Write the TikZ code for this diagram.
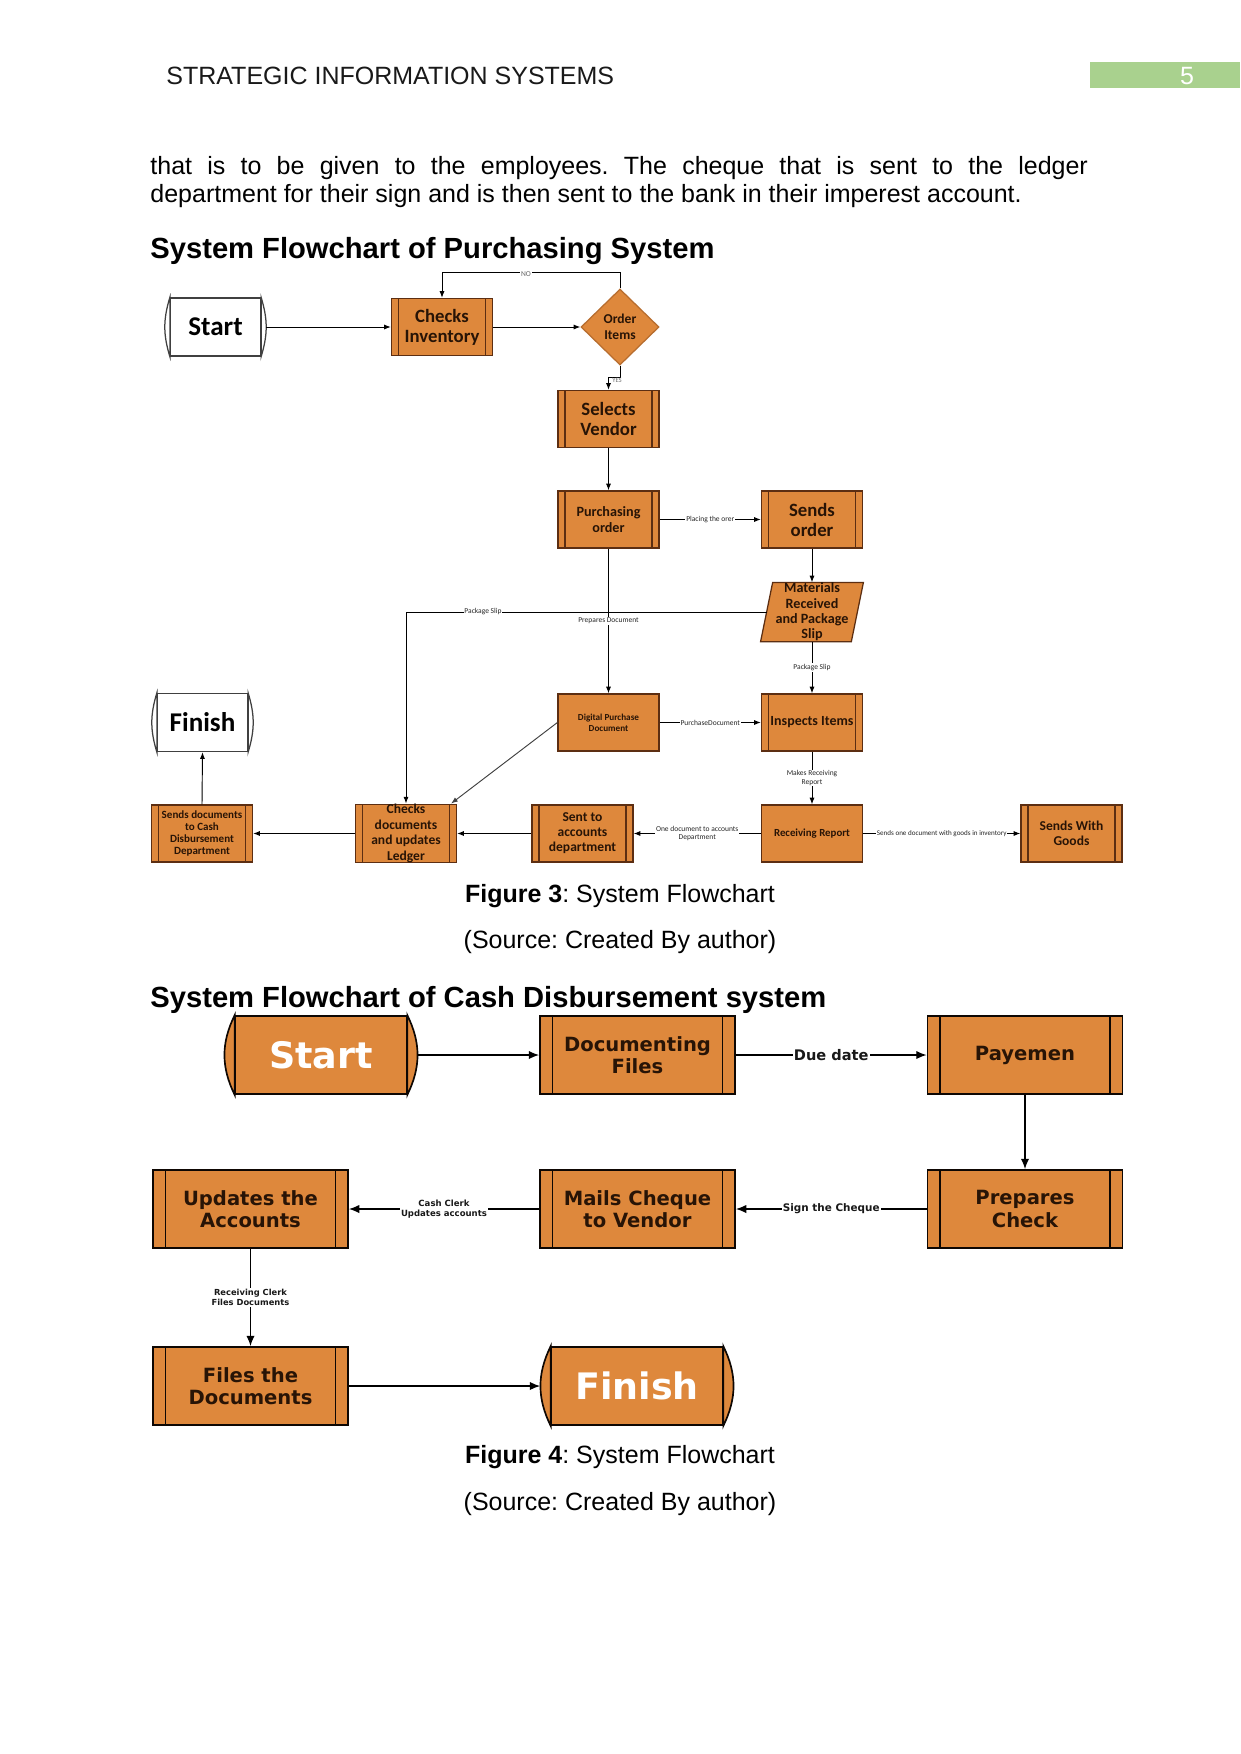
\documentclass[tikz,border=0pt]{standalone}
\usepackage{fontspec}
\setmainfont{Liberation Sans}
\newfontfamily\carl{Carlito}
\newfontfamily\dvs{DejaVu Sans}
\usetikzlibrary{shapes.geometric,arrows.meta,backgrounds}
\frenchspacing
\definecolor{orng}{RGB}{222,136,60}
\definecolor{brd}{RGB}{92,46,18}
\definecolor{txt}{RGB}{40,20,6}
\definecolor{hdrgreen}{RGB}{169,209,142}
\def\pxu{0.48pt}
\newcommand\mycb[2]{\carl\bfseries\fontsize{#1}{#2}\selectfont}
\newcommand\mycr[2]{\carl\fontsize{#1}{#2}\selectfont}
\newcommand\mydb[2]{\dvs\bfseries\fontsize{#1}{#2}\selectfont}
\newcommand\mybulges[4]{%
  \draw[#4, fill=#3] (#1.north east) to[bend left=#2] (#1.south east) -- cycle;
  \draw[#4, fill=#3] (#1.south west) to[bend left=#2] (#1.north west) -- cycle;}
\begin{document}
\begin{tikzpicture}[x=0.48pt,y=-0.48pt,
  pbase/.style={rectangle, fill=orng, draw=brd, line width=0.6pt,
    minimum width=101*\pxu, minimum height=57*\pxu, inner sep=0pt,
    align=center, text=txt, font=\mycb{9}{9.6}},
  pproc/.style={pbase, path picture={\draw[brd, line width=0.6pt]
    ([xshift=3.4pt]path picture bounding box.north west) -- ([xshift=3.4pt]path picture bounding box.south west)
    ([xshift=-3.4pt]path picture bounding box.north east) -- ([xshift=-3.4pt]path picture bounding box.south east);}},
  pterm/.style={rectangle, fill=white, draw=black!75, line width=0.6pt,
    minimum width=90*\pxu, minimum height=58*\pxu, inner sep=0pt, font=\mycb{13}{15}},
  cproc/.style={rectangle, fill=orng, draw=black!85!brd, line width=0.8pt,
    minimum width=195*\pxu, minimum height=78*\pxu, inner sep=0pt,
    align=center, text=txt, font=\mydb{9.4}{10.6},
    path picture={\draw[black!85!brd, line width=0.8pt]
    ([xshift=6pt]path picture bounding box.north west) -- ([xshift=6pt]path picture bounding box.south west)
    ([xshift=-6pt]path picture bounding box.north east) -- ([xshift=-6pt]path picture bounding box.south east);}},
  cterm/.style={rectangle, fill=orng, draw=black!85!brd, line width=0.8pt,
    minimum width=171*\pxu, minimum height=78*\pxu, inner sep=0pt,
    text=white, font=\mydb{17.5}{20}},
  parr/.style={-{Latex[length=3.2pt,width=2.4pt]}, line width=0.45pt, black},
  carr/.style={-{Latex[length=5pt,width=4pt]}, line width=0.7pt, black},
  plbl/.style={fill=white, inner sep=0.4pt, font=\mycr{3.6}{4.2}, text=black!85, align=center},
  clbl/.style={fill=white, inner sep=0.6pt, text=black!90, align=center},
]
\begin{scope}[on background layer]
  \fill[white] (0,0) rectangle (1241,1754);
\end{scope}
\useasboundingbox (0,0) rectangle (1241,1754);

% ---------- page header and text ----------
\fill[hdrgreen] (1090,62) rectangle (1240,88);
\node[anchor=base, text=white, font=\fontsize{12}{14}\selectfont, inner sep=0] (pgnum) at (1187,84) {5};
\node[anchor=base west, font=\fontsize{12}{14}\selectfont, inner sep=0, text=black!90] (hdr) at (166,84) {STRATEGIC INFORMATION SYSTEMS};
\node[anchor=base west, font=\fontsize{12}{14}\selectfont, inner sep=0] (body1) at (150,174)
  {\makebox[450pt][s]{that is to be given to the employees. The cheque that is sent to the ledger}};
\node[anchor=base west, font=\fontsize{12}{14}\selectfont, inner sep=0] (body2) at (150,202)
  {department for their sign and is then sent to the bank in their imperest account.};
\node[anchor=base west, font=\bfseries\fontsize{14}{16}\selectfont, inner sep=0] (head1) at (150,258)
  {System Flowchart of Purchasing System};

% ---------- purchasing flowchart ----------
\node[pterm] (pstart) at (215.5,327) {Start};
\mybulges{pstart}{17}{white}{black!75, line width=0.6pt}
\node[pproc] (chk) at (442,327) {Checks\\Inventory};
\node[diamond, fill=orng, draw=orng!70!brd, line width=0.6pt, minimum width=78*\pxu,
  minimum height=76*\pxu, inner sep=0pt, align=center, text=txt, font=\mycb{6.5}{7.6}] (ord) at (620,327) {Order\\Items};
\node[pproc] (sv) at (608.5,419) {Selects\\Vendor};
\node[pproc, font=\mycb{6.8}{7.8}] (po) at (608.5,519.5) {Purchasing\\order};
\node[pproc] (so) at (812,519.5) {Sends\\order};
\node[rectangle, minimum width=102*\pxu, minimum height=58*\pxu, inner sep=0pt, align=center,
  text=txt, font=\mycb{6.8}{7.4}] (mat) at (812,612) {Materials\\Received\\and Package\\Slip};
\begin{scope}[on background layer]
  \filldraw[fill=orng, draw=brd, line width=0.6pt] ([xshift=5.8pt]mat.north west) -- (mat.north east)
    -- ([xshift=-5.8pt]mat.south east) -- (mat.south west) -- cycle;
\end{scope}
\node[pbase, font=\mycb{4.4}{5.2}] (dig) at (608.5,722.5) {Digital Purchase\\Document};
\node[pproc, font=\mycb{6.7}{7.6}] (insp) at (812,722.5) {Inspects Items};
\node[pterm] (pfin) at (202.5,722.5) {Finish};
\mybulges{pfin}{17}{white}{black!75, line width=0.6pt}
\node[pproc, font=\mycb{5.3}{5.9}] (sdc) at (202,833.5) {Sends documents\\to Cash\\Disbursement\\Department};
\node[pproc, font=\mycb{6.5}{7.5}] (chkd) at (406,833.5) {Checks\\documents\\and updates\\Ledger};
\node[pproc, font=\mycb{6.5}{7.2}] (sent) at (582.5,833.5) {Sent to\\accounts\\department};
\node[pbase, font=\mycb{5.2}{6}] (rr) at (812,833.5) {Receiving Report};
\node[pproc, font=\mycb{6.5}{7.4}] (swg) at (1071.5,833.5) {Sends With\\Goods};

\draw[parr] ([xshift=2.4pt]pstart.east) -- (chk.west);
\draw[parr] (chk.east) -- (ord.west);
\draw[parr] (ord.north) -- ++(0,-16) -| (chk.north);
\node[plbl, text=black!60] (nolbl) at (526,274) {NO};
\draw[parr] (ord.south) -- ++(0,12) -| (sv.north);
\node[plbl, fill=none, text=black!55, font=\mycr{3.2}{4}] (yeslbl) at (617,380) {YES};
\draw[parr] (sv.south) -- (po.north);
\draw[parr] (po.east) -- node[plbl] {Placing the orer} (so.west);
\draw[parr] (so.south) -- (mat.north);
\draw[parr] (mat.south) -- node[plbl] {Package Slip} (insp.north);
\draw[parr] ([xshift=2.9pt]mat.west) -| (chkd.north);
\node[plbl] (pslbl) at (483,612) {Package Slip};
\draw[parr] (po.south) -- node[plbl, pos=0.5] {Prepares Document} (dig.north);
\draw[parr] (dig.east) -- node[plbl] {PurchaseDocument} (insp.west);
\draw[parr] (insp.south) -- node[plbl] {Makes Receiving\\Report} (rr.north);
\draw[parr] (rr.west) -- node[plbl] {One document to accounts\\Department} (sent.east);
\draw[parr] (rr.east) -- node[plbl, font=\mycr{3.4}{4}] {Sends one document with goods in inventory} (swg.west);
\draw[parr] (sent.west) -- (chkd.east);
\draw[parr] (chkd.west) -- (sdc.east);
\draw[parr] (sdc.north) -- (pfin.south);
\draw[parr, black!75] (dig.west) -- ([xshift=-2.9pt]chkd.north east);

\node[anchor=base, font=\fontsize{12}{14}\selectfont, inner sep=0] (fig3) at (620,902) {\textbf{Figure 3}: System Flowchart};
\node[anchor=base, font=\fontsize{12}{14}\selectfont, inner sep=0] (src3) at (620,948) {(Source: Created By author)};

% ---------- cash disbursement flowchart ----------
\node[anchor=base west, font=\bfseries\fontsize{14}{16}\selectfont, inner sep=0] (head2) at (150,1007)
  {System Flowchart of Cash Disbursement system};

\node[cterm] (cstart) at (321,1055) {Start};
\mybulges{cstart}{26}{orng}{black!85!brd, line width=0.8pt}
\node[cproc] (doc) at (637.5,1055) {Documenting\\Files};
\node[cproc] (pay) at (1025,1055) {Payemen};
\node[cproc] (prep) at (1025,1209) {Prepares\\Check};
\node[cproc] (mail) at (637.5,1209) {Mails Cheque\\to Vendor};
\node[cproc] (upd) at (250.5,1209) {Updates the\\Accounts};
\node[cproc] (files) at (250.5,1386) {Files the\\Documents};
\node[cterm] (cfin) at (637,1386) {Finish};
\mybulges{cfin}{26}{orng}{black!85!brd, line width=0.8pt}

\draw[carr] ([xshift=5pt]cstart.east) -- (doc.west);
\draw[carr] (doc.east) -- node[clbl, font=\mydb{7}{8}] {Due date} (pay.west);
\draw[carr] (pay.south) -- (prep.north);
\draw[carr] (prep.west) -- node[clbl, font=\mydb{5}{6}] {Sign the Cheque} (mail.east);
\draw[carr] (mail.west) -- node[clbl, font=\mydb{4.1}{4.6}] {Cash Clerk\\Updates accounts} (upd.east);
\draw[carr] (upd.south) -- node[clbl, font=\mydb{4}{4.6}] {Receiving Clerk\\Files Documents} (files.north);
\draw[carr] (files.east) -- ([xshift=-5pt]cfin.west);

\node[anchor=base, font=\fontsize{12}{14}\selectfont, inner sep=0] (fig4) at (620,1463) {\textbf{Figure 4}: System Flowchart};
\node[anchor=base, font=\fontsize{12}{14}\selectfont, inner sep=0] (src4) at (620,1510) {(Source: Created By author)};
\end{tikzpicture}
\end{document}
